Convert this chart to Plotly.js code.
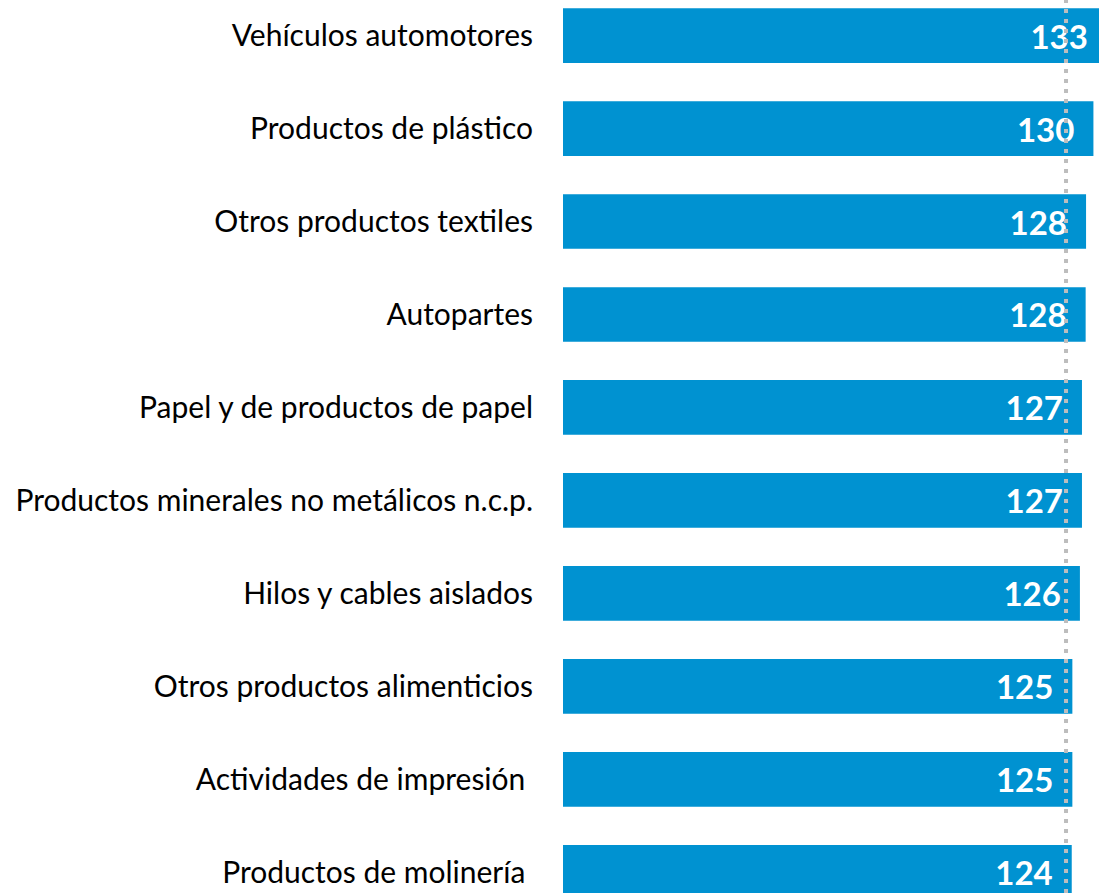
<!DOCTYPE html>
<html>
<head>
<meta charset="utf-8">
<script src="https://cdn.plot.ly/plotly-3.0.1.min.js"></script>
<style>
  html, body { margin: 0; padding: 0; overflow: hidden; background: #ffffff; }
  #chart { width: 1120px; height: 893px; }
</style>
</head>
<body>
<div id="chart"></div>
<script>
// Categories, top to bottom
const categories = [
  "Vehículos automotores",
  "Productos de plástico",
  "Otros productos textiles",
  "Autopartes",
  "Papel y de productos de papel",
  "Productos minerales no metálicos n.c.p.",
  "Hilos y cables aislados",
  "Otros productos alimenticios",
  "Actividades de impresión\u00a0",
  "Productos de molinería\u00a0"
];
// Index values (labels show rounded values)
const values = [133.0, 129.7, 127.9, 127.8, 126.9, 126.9, 126.4, 124.55, 124.55, 124.4];
// Reference level (dotted line)
const referenceValue = 123.0;

const trace = {
  type: "bar",
  orientation: "h",
  y: categories,
  x: values,
  marker: { color: "#0092D1", line: { width: 0 } },
  texttemplate: "%{x:.0f}\u00a0\u00a0",
  textposition: "inside",
  insidetextanchor: "end",
  insidetextfont: { family: "Lato", size: 33, color: "#ffffff", weight: "bold" },
  cliponaxis: true,
  hoverinfo: "skip"
};

const layout = {
  width: 1120,
  height: 893,
  margin: { l: 563, r: 0, t: 0, b: 0, pad: 0 },
  paper_bgcolor: "#ffffff",
  plot_bgcolor: "#ffffff",
  showlegend: false,
  bargap: 0.412,
  xaxis: {
    range: [0, 136.2],
    showgrid: false,
    zeroline: false,
    showline: false,
    showticklabels: false,
    ticks: ""
  },
  yaxis: {
    type: "category",
    categoryorder: "array",
    categoryarray: categories,
    range: [9.223, -0.383],
    showgrid: false,
    zeroline: false,
    showline: false,
    ticks: "outside",
    ticklen: 23,
    tickcolor: "rgba(0,0,0,0)",
    automargin: false,
    tickfont: { family: "Lato", size: 30, color: "#000000" }
  },
  shapes: [{
    type: "line",
    xref: "x",
    yref: "paper",
    x0: referenceValue,
    x1: referenceValue,
    y0: 0,
    y1: 1,
    layer: "above",
    line: { color: "#BDBDBD", width: 4, dash: "4px,6px" }
  }]
};

Plotly.newPlot("chart", [trace], layout, { displayModeBar: false, staticPlot: true });
</script>
</body>
</html>
